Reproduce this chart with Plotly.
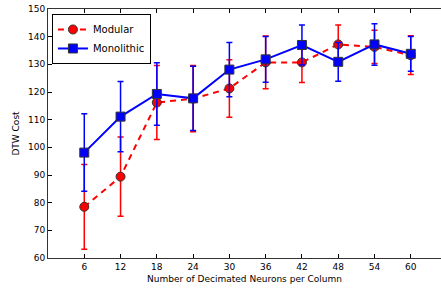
import plotly.graph_objects as go

neurons = [6, 12, 18, 24, 30, 36, 42, 48, 54, 60]
modular = [78.5, 89.4, 116.2, 117.6, 121.3, 130.7, 130.7, 137.2, 136.3, 133.3]
modular_err = [15.3, 14.3, 13.4, 12.0, 10.4, 9.5, 7.3, 7.0, 6.0, 7.0]
monolithic = [98.1, 111.1, 119.3, 117.7, 128.1, 131.8, 137.0, 130.9, 137.2, 133.8]
monolithic_err = [14.0, 12.7, 11.3, 11.6, 9.8, 8.3, 7.2, 7.0, 7.5, 6.3]

fig = go.Figure()
fig.add_trace(go.Scatter(
    x=neurons, y=modular, name="Modular", mode="lines+markers",
    line=dict(color="#ff0000", width=2, dash="6px,5px"),
    marker=dict(symbol="circle", size=9, color="#ff0000", line=dict(color="#333", width=1)),
    error_y=dict(type="data", array=modular_err, color="#ff0000", thickness=1.5, width=3),
))
fig.add_trace(go.Scatter(
    x=neurons, y=monolithic, name="Monolithic", mode="lines+markers",
    line=dict(color="#0000ff", width=2),
    marker=dict(symbol="square", size=9, color="#0000ff", line=dict(color="#333", width=1)),
    error_y=dict(type="data", array=monolithic_err, color="#0000ff", thickness=1.5, width=3),
))

fig.update_layout(
    width=441, height=290,
    margin=dict(l=48, r=0, t=9, b=32, autoexpand=False),
    plot_bgcolor="white", paper_bgcolor="white",
    font=dict(family="DejaVu Sans", size=9, color="black"),
    showlegend=True,
    legend=dict(x=0.01, y=0.98, xanchor="left", yanchor="top",
                bordercolor="black", borderwidth=1, bgcolor="white",
                font=dict(size=10), tracegroupgap=0),
)
fig.update_xaxes(
    range=[0, 65], tickvals=neurons, ticktext=[str(v) for v in neurons],
    showgrid=False, zeroline=False, showline=True, linecolor="#333", linewidth=1,
    mirror="ticks", ticks="inside", ticklen=4, tickcolor="black",
    title=dict(text="Number of Decimated Neurons per Column", font=dict(size=9), standoff=4),
    automargin=False,
)
fig.update_yaxes(
    range=[60, 150], dtick=10,
    showgrid=False, zeroline=False, showline=True, linecolor="#333", linewidth=1,
    ticks="inside", ticklen=4, tickcolor="black",
    title=dict(text="DTW Cost", font=dict(size=9), standoff=6),
    automargin=False,
)

fig.write_html("out.html", config={"displayModeBar": False},
               post_script="document.body.style.margin='0px';document.body.style.overflow='hidden';")
